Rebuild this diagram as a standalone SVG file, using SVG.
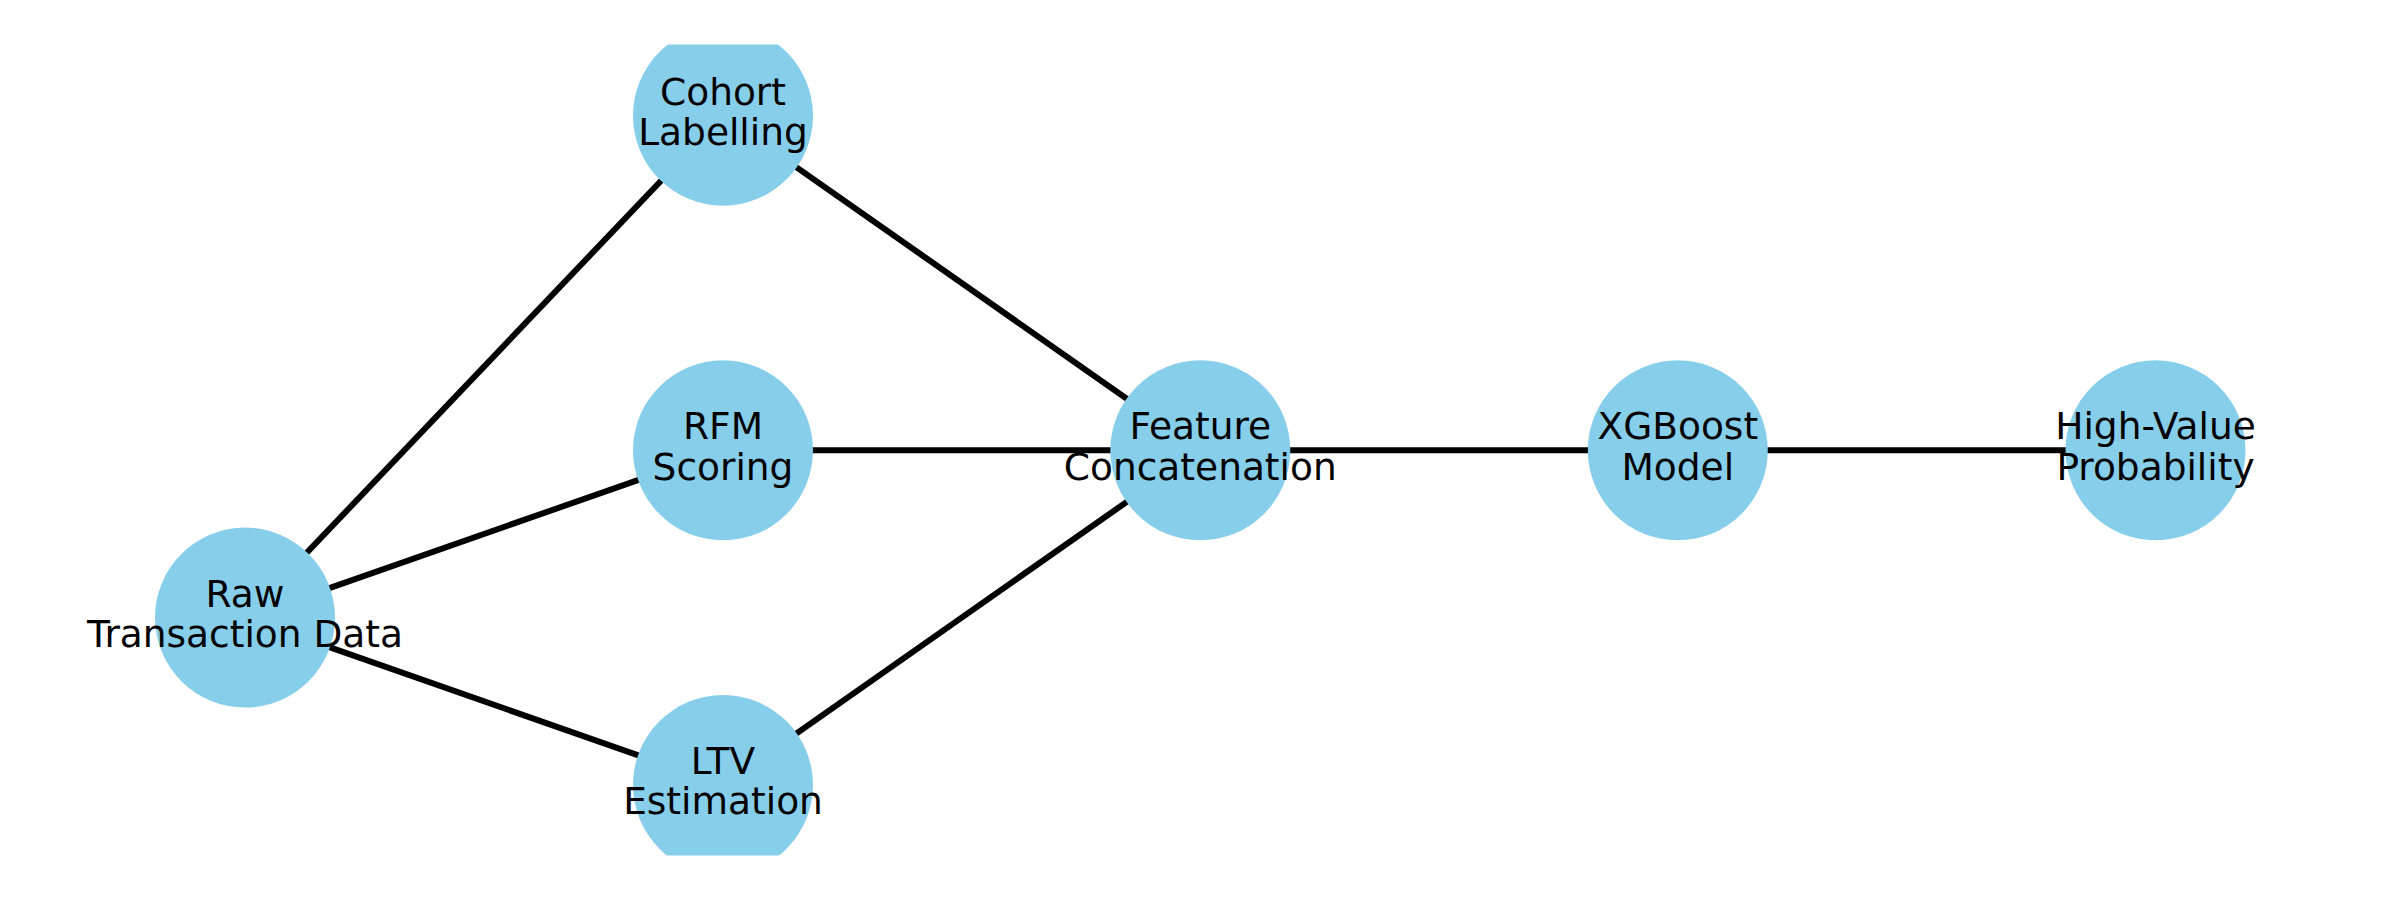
<svg xmlns="http://www.w3.org/2000/svg" width="2400" height="900" viewBox="0 0 2400 900">
  <defs>
    <clipPath id="axes">
      <rect x="0" y="44.5" width="2400" height="811"/>
    </clipPath>
  </defs>
  <style>
    .edge { stroke: #000000; stroke-width: 6; fill: none; }
    .node circle { fill: #87CEEB; stroke: none; }
    .node text { font-family: "DejaVu Sans", "Liberation Sans", sans-serif; font-size: 37.5px; fill: #000000; text-anchor: middle; }
  </style>
  <rect x="0" y="0" width="2400" height="900" fill="#ffffff"/>
  <g clip-path="url(#axes)">
    <g id="connectors">
      <line class="edge" x1="245" y1="617.6" x2="723" y2="115.7"/>
      <line class="edge" x1="245" y1="617.6" x2="723" y2="450.3"/>
      <line class="edge" x1="245" y1="617.6" x2="723" y2="785"/>
      <line class="edge" x1="723" y1="115.7" x2="1200.3" y2="450.3"/>
      <line class="edge" x1="723" y1="450.3" x2="1200.3" y2="450.3"/>
      <line class="edge" x1="723" y1="785" x2="1200.3" y2="450.3"/>
      <line class="edge" x1="1200.3" y1="450.3" x2="1677.8" y2="450.3"/>
      <line class="edge" x1="1677.8" y1="450.3" x2="2155.5" y2="450.3"/>
    </g>
    <g id="node-raw" class="node">
      <circle cx="245" cy="617.6" r="90"/>
      <text x="245" y="606.6">Raw</text>
      <text x="245" y="647">Transaction Data</text>
    </g>
    <g id="node-cohort" class="node">
      <circle cx="723" cy="115.7" r="90"/>
      <text x="723" y="104.7">Cohort</text>
      <text x="723" y="145">Labelling</text>
    </g>
    <g id="node-rfm" class="node">
      <circle cx="723" cy="450.3" r="90"/>
      <text x="723" y="439.3">RFM</text>
      <text x="723" y="479.6">Scoring</text>
    </g>
    <g id="node-ltv" class="node">
      <circle cx="723" cy="785" r="90"/>
      <text x="723" y="774">LTV</text>
      <text x="723" y="814.3">Estimation</text>
    </g>
    <g id="node-feature" class="node">
      <circle cx="1200.3" cy="450.3" r="90"/>
      <text x="1200.3" y="439.3">Feature</text>
      <text x="1200.3" y="479.6">Concatenation</text>
    </g>
    <g id="node-xgboost" class="node">
      <circle cx="1677.8" cy="450.3" r="90"/>
      <text x="1677.8" y="439.3">XGBoost</text>
      <text x="1677.8" y="479.6">Model</text>
    </g>
    <g id="node-highvalue" class="node">
      <circle cx="2155.5" cy="450.3" r="90"/>
      <text x="2155.5" y="439.3">High-Value</text>
      <text x="2155.5" y="479.6">Probability</text>
    </g>
  </g>
</svg>
